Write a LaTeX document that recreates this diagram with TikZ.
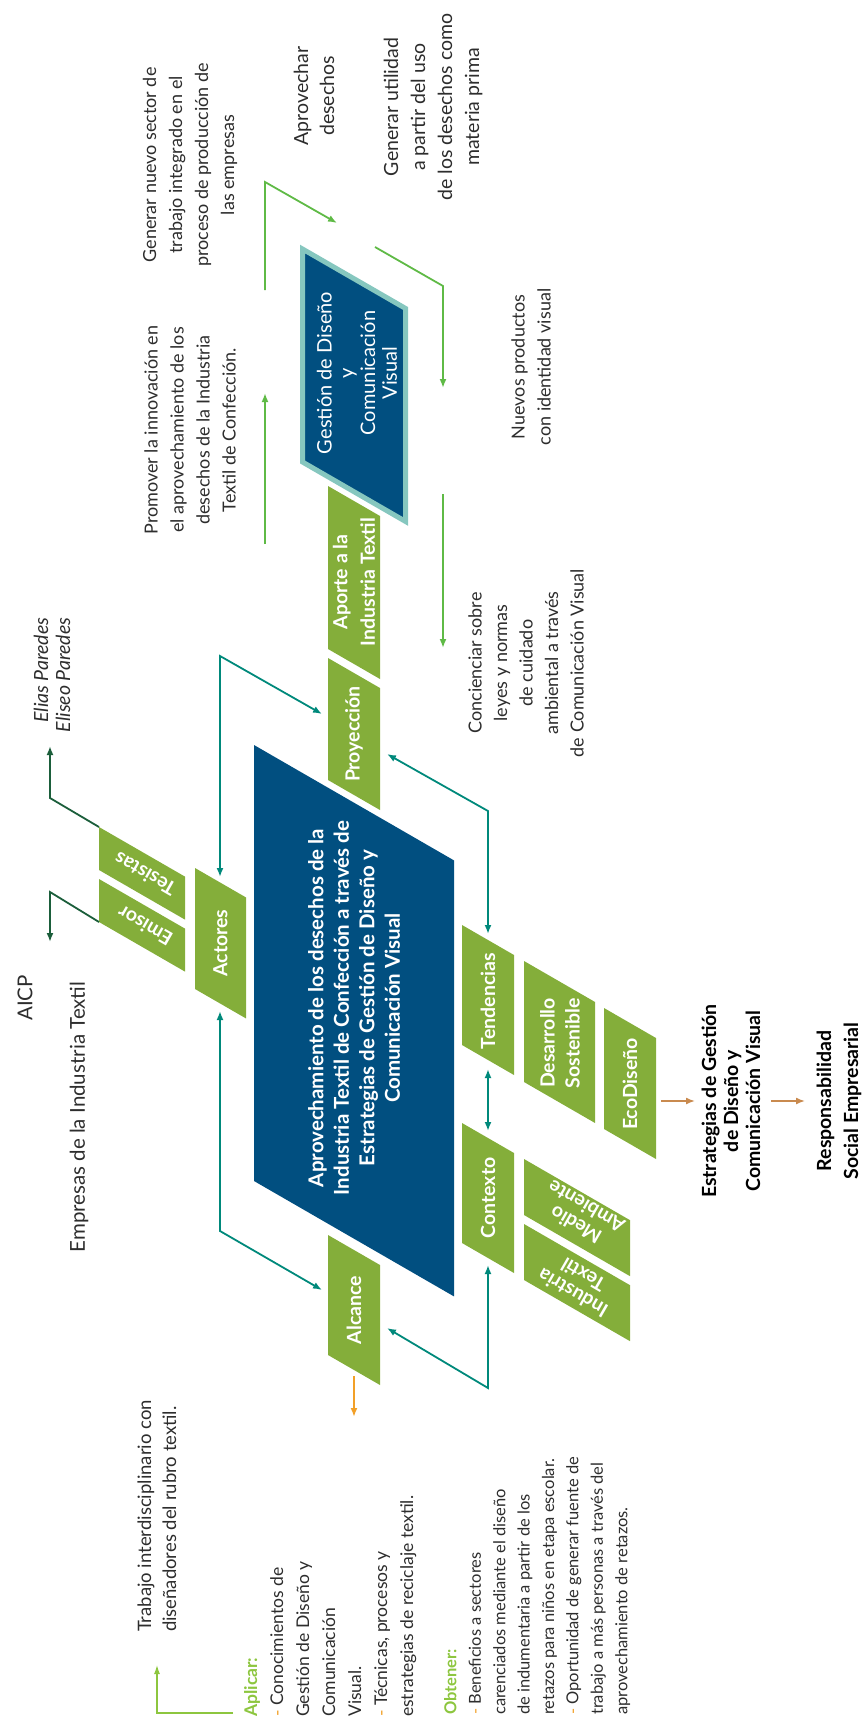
\documentclass[tikz,border=0pt]{standalone}
\usepackage{fontspec}
\setmainfont{Lato}
\usetikzlibrary{arrows.meta}
\definecolor{dblue}{RGB}{1,79,128}
\definecolor{gboxc}{RGB}{132,174,58}
\definecolor{tealc}{RGB}{0,137,123}
\definecolor{lgreen}{RGB}{95,186,70}
\definecolor{dgreen}{RGB}{27,94,59}
\definecolor{lteal}{RGB}{134,199,191}
\definecolor{orng}{RGB}{242,160,40}
\definecolor{brwn}{RGB}{201,138,79}
\definecolor{agreen}{RGB}{141,198,63}
\definecolor{txt}{RGB}{45,45,45}
\newcommand\para[6]{\fill[#1] (#3,#4) coordinate (#2-tl) -- ++(#5,{0.577*#5}) coordinate (#2-tr) -- ++(0,#6) coordinate (#2-br) -- ++({-#5},{-0.577*#5}) coordinate (#2-bl) -- cycle;}
\begin{document}
\begin{tikzpicture}[x=1pt,y=-1pt,
  lbl/.style={rotate=90,align=center,text=txt,inner sep=0pt,font=\fontsize{18}{26}\selectfont},
  wlbl/.style={rotate=90,align=center,text=white,inner sep=0pt,font=\bfseries\fontsize{19.5}{26}\selectfont},
  udlbl/.style={rotate=150,align=center,text=white,inner sep=0pt,font=\bfseries\fontsize{19.5}{21}\selectfont},
  blk/.style={rotate=90,align=center,text=black,inner sep=0pt,font=\bfseries\fontsize{19.5}{22}\selectfont},
  tarr/.style={draw=tealc,line width=1.8pt,{Latex[length=9pt,width=7pt]}-{Latex[length=9pt,width=7pt]}},
  garr/.style={draw=lgreen,line width=1.8pt,-{Latex[length=9pt,width=7pt]}},
  dgarr/.style={draw=dgreen,line width=1.8pt,-{Latex[length=9pt,width=7pt]}},
]
\useasboundingbox (0,0) rectangle (867,1724);

% ---------- shapes ----------
\para{dblue}{main}{254}{745}{200}{436}
\para{dblue,draw=lteal,line width=5pt}{gest}{302.5}{249}{103}{213}
\para{gboxc}{act}{195}{868}{51}{121}
\para{gboxc}{proy}{328}{658}{52}{122}
\para{gboxc}{apor}{328}{486}{52}{163}
\para{gboxc}{alc}{328}{1235}{52}{120}
\para{gboxc}{tend}{462}{925}{52}{120}
\para{gboxc}{cont}{462}{1123}{52}{120}
\para{gboxc}{desa}{524}{961}{71}{121}
\para{gboxc}{eco}{604}{1008}{52}{121}
\para{gboxc}{tes}{99}{827}{86}{43}
\para{gboxc}{emi}{99}{879}{86}{43}
\para{gboxc}{med}{524}{1159}{106}{56}
\para{gboxc}{ind}{524}{1224}{106}{56}

% ---------- box labels ----------
\node[wlbl,font=\bfseries\fontsize{20.5}{25.5}\selectfont] (mainl) at (354,1008) {Aprovechamiento de los desechos de la\\Industria Textil de Confección a través de\\Estrategias de Gestión de Diseño y\\Comunicación Visual};
\node[lbl,text=white,font=\fontsize{20}{21.7}\selectfont] (gestl) at (357,373) {Gestión de Diseño\\y\\Comunicación\\Visual};
\node[wlbl] (actl) at (220.5,943) {Actores};
\node[wlbl] (proyl) at (354,734) {Proyección};
\node[wlbl,font=\bfseries\fontsize{19.5}{27.5}\selectfont] (aporl) at (354,582) {Aporte a la\\Industria Textil};
\node[wlbl] (alcl) at (354,1310) {Alcance};
\node[wlbl] (tendl) at (488,1001) {Tendencias};
\node[wlbl] (contl) at (488,1198) {Contexto};
\node[wlbl,font=\bfseries\fontsize{19.5}{25}\selectfont] (desal) at (560,1043) {Desarrollo\\Sostenible};
\node[wlbl] (ecol) at (630,1084) {EcoDiseño};
\node[udlbl] (tesl) at (145,874) {Tesistas};
\node[udlbl] (emil) at (145,926) {Emisor};
\node[udlbl] (medl) at (581,1216) {Medio\\Ambiente};
\node[udlbl] (indl) at (578,1284) {Industria\\Textil};

% ---------- free texts ----------
\node[lbl] (t1) at (190,165) {Generar nuevo sector de\\trabajo integrado en el\\proceso de producción de\\las empresas};
\node[lbl] (t2) at (190,430) {Promover la innovación en\\el aprovechamiento de los\\desechos de la Industria\\Textil de Confección.};
\node[lbl,font=\fontsize{19.5}{26}\selectfont] (t3) at (314,96) {Aprovechar\\desechos};
\node[lbl,font=\fontsize{19.5}{27}\selectfont] (t4) at (433,107) {Generar utilidad\\a partir del uso\\de los desechos como\\materia prima};
\node[lbl] (t5) at (531,367) {Nuevos productos\\con identidad visual};
\node[lbl,font=\fontsize{18}{25.5}\selectfont] (t6) at (526,663) {Concienciar sobre\\leyes y normas\\de cuidado\\ambiental a través\\de Comunicación Visual};
\node[lbl,align=right,font=\itshape\fontsize{19.5}{22}\selectfont] (autores) at (52,675) {Elias Paredes\\Eliseo Paredes};
\node[lbl,font=\fontsize{20.5}{26}\selectfont] (aicp) at (25,998) {AICP};
\node[lbl,font=\fontsize{20.5}{26}\selectfont] (emp) at (79,1117) {Empresas de la Industria Textil};
\node[blk] (estr) at (731,1101) {Estrategias de Gestión\\de Diseño y\\Comunicación Visual};
\node[blk,font=\bfseries\fontsize{19.5}{27}\selectfont] (resp) at (839,1101) {Responsabilidad\\Social Empresarial};
\node[lbl,align=left,font=\fontsize{18.5}{25}\selectfont] (trab) at (157,1516) {Trabajo interdisciplinario con\\diseñadores del rubro textil.};
\node[lbl,align=left,anchor=north west,font=\fontsize{17.5}{26}\selectfont] (apl) at (244,1717) {\textcolor{agreen}{\bfseries Aplicar:}\\\textcolor{orng}{-} Conocimientos de\\Gestión de Diseño y\\Comunicación\\Visual.\\\textcolor{orng}{-} Técnicas, procesos y\\estrategias de reciclaje textil.};
\node[lbl,align=left,anchor=north west,font=\fontsize{16.5}{24.4}\selectfont] (obt) at (444,1715) {\textcolor{agreen}{\bfseries Obtener:}\\\textcolor{orng}{-} Beneficios a sectores\\carenciados mediante el diseño\\de indumentaria a partir de los\\retazos para niños en etapa escolar.\\\textcolor{orng}{-} Oportunidad de generar fuente de\\trabajo a más personas a través del\\aprovechamiento de retazos.};

% ---------- connector coordinates ----------
\coordinate (tesa) at (50,798);   \coordinate (tesb) at (50,746);
\coordinate (emia) at (50,892);   \coordinate (emib) at (50,942);
\coordinate (proyin) at (322,714); \coordinate (c1) at (220,656); \coordinate (acttop) at (220,877);
\coordinate (actbot) at (220,1011); \coordinate (c2) at (220,1231); \coordinate (alcin) at (322,1290);
\coordinate (proyout) at (387,754); \coordinate (c3) at (488,811); \coordinate (tendtop) at (488,934);
\coordinate (tendbot) at (488,1069); \coordinate (conttop) at (488,1131);
\coordinate (contbot) at (488,1265); \coordinate (c4) at (488,1388); \coordinate (alcout) at (387,1328);
\coordinate (g1s) at (265,290); \coordinate (g1m) at (265,182); \coordinate (g1e) at (337,223);
\coordinate (g2s) at (375,247); \coordinate (g2m) at (443,286); \coordinate (g2e) at (443,388);
\coordinate (g3s) at (265,544); \coordinate (g3e) at (265,393);
\coordinate (g4s) at (443,494); \coordinate (g4e) at (443,648);
\coordinate (o1s) at (354,1376); \coordinate (o1e) at (354,1417);
\coordinate (b1s) at (661,1101); \coordinate (b1e) at (695,1101);
\coordinate (b2s) at (771,1101); \coordinate (b2e) at (805,1101);
\coordinate (l1s) at (233,1713); \coordinate (l1m) at (157,1713); \coordinate (l1e) at (157,1665);

% ---------- connectors ----------
\draw[dgarr] (tes-tl) -- (tesa) -- (tesb);
\draw[dgarr] (emi-bl) -- (emia) -- (emib);
\draw[tarr] (proyin) -- (c1) -- (acttop);
\draw[tarr] (actbot) -- (c2) -- (alcin);
\draw[tarr] (proyout) -- (c3) -- (tendtop);
\draw[tarr] (tendbot) -- (conttop);
\draw[tarr] (contbot) -- (c4) -- (alcout);
\draw[garr] (g1s) -- (g1m) -- (g1e);
\draw[garr] (g2s) -- (g2m) -- (g2e);
\draw[garr] (g3s) -- (g3e);
\draw[garr] (g4s) -- (g4e);
\draw[draw=orng,line width=1.8pt,-{Latex[length=9pt,width=7pt]}] (o1s) -- (o1e);
\draw[draw=brwn,line width=1.5pt,-{Latex[length=9pt,width=7pt]}] (b1s) -- (b1e);
\draw[draw=brwn,line width=1.5pt,-{Latex[length=9pt,width=7pt]}] (b2s) -- (b2e);
\draw[draw=agreen,line width=1.2pt,-{Latex[length=9pt,width=6pt]}] (l1s) -- (l1m) -- (l1e);
\end{tikzpicture}
\end{document}
